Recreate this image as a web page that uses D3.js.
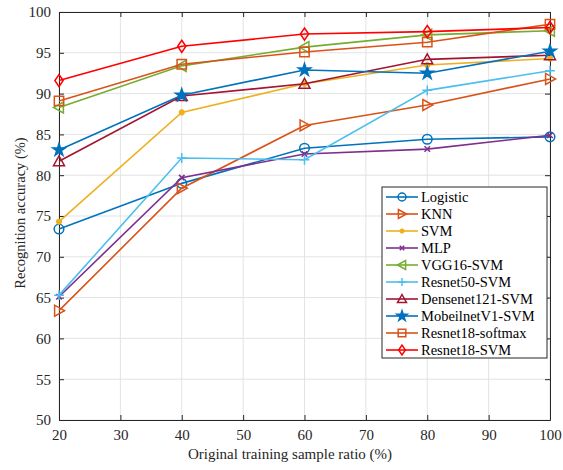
<!DOCTYPE html>
<html>
<head>
<meta charset="utf-8">
<script src="https://cdn.jsdelivr.net/npm/d3@7"></script>
<style>
  body { margin: 0; background: #fff; }
  text { font-family: "Liberation Serif", "Times New Roman", serif; }
</style>
</head>
<body>
<svg id="chart" width="563" height="470"></svg>
<script>
var ratios = [20, 40, 60, 80, 100];
var names = ["Logistic", "KNN", "SVM", "MLP", "VGG16-SVM", "Resnet50-SVM",
  "Densenet121-SVM", "MobeilnetV1-SVM", "Resnet18-softmax", "Resnet18-SVM"];
var logistic = [73.4, 79.0, 83.3, 84.4, 84.7];
var knn = [63.4, 78.4, 86.1, 88.6, 91.8];
var svm = [74.3, 87.7, 91.2, 93.5, 94.3];
var mlp = [65.1, 79.7, 82.6, 83.2, 84.9];
var vgg16 = [88.3, 93.4, 95.7, 97.2, 97.7];
var resnet50 = [65.3, 82.1, 81.9, 90.4, 92.8];
var densenet121 = [81.7, 89.7, 91.2, 94.2, 94.7];
var mobilenet = [83.1, 89.8, 92.9, 92.5, 95.2];
var resnet18Softmax = [89.1, 93.6, 95.1, 96.3, 98.5];
var resnet18Svm = [91.6, 95.8, 97.3, 97.6, 98.1];
var seriesValues = [logistic, knn, svm, mlp, vgg16, resnet50, densenet121, mobilenet, resnet18Softmax, resnet18Svm];
var colors = ["#0072BD", "#D95319", "#EDB120", "#7E2F8E", "#77AC30", "#4DBEEE", "#A2142F", "#0072BD", "#D95319", "#FF0000"];
var markers = ["circle", "triRight", "asterisk", "cross", "triLeft", "plus", "triUp", "star", "square", "diamond"];
var xTicks = [20, 30, 40, 50, 60, 70, 80, 90, 100];
var yTicks = [50, 55, 60, 65, 70, 75, 80, 85, 90, 95, 100];

var svg = d3.select("#chart");
var pl = 59, pr = 550, pt = 12, pb = 420;
var xScale = d3.scaleLinear().domain([20, 100]).range([pl, pr]);
var yScale = d3.scaleLinear().domain([50, 100]).range([pb, pt]);

// grid
var grid = svg.append("g").attr("stroke", "#e3e3e3").attr("stroke-width", 1);
xTicks.forEach(function(t){
  grid.append("line").attr("x1", xScale(t)).attr("x2", xScale(t)).attr("y1", pt).attr("y2", pb);
});
yTicks.forEach(function(t){
  grid.append("line").attr("x1", pl).attr("x2", pr).attr("y1", yScale(t)).attr("y2", yScale(t));
});

// axes, ticks inward like matlab
var axisColor = "#262626";
function styleAxis(g){
  g.select(".domain").attr("stroke", axisColor);
  g.selectAll(".tick line").attr("stroke", axisColor);
  g.selectAll(".tick text").attr("fill", "#262626").style("font-size", "15px")
    .style("font-family", "'Liberation Serif', serif");
}
svg.append("g").attr("transform", "translate(0," + pb + ")")
  .call(d3.axisBottom(xScale).tickValues(xTicks).tickSizeInner(-5).tickSizeOuter(0).tickPadding(9))
  .call(styleAxis);
svg.append("g").attr("transform", "translate(" + pl + ",0)")
  .call(d3.axisLeft(yScale).tickValues(yTicks).tickSizeInner(-5).tickSizeOuter(0).tickPadding(8))
  .call(styleAxis);
svg.append("g").attr("transform", "translate(0," + pt + ")")
  .call(d3.axisTop(xScale).tickValues(xTicks).tickSizeInner(-5).tickSizeOuter(0).tickFormat(""))
  .call(styleAxis);
svg.append("g").attr("transform", "translate(" + pr + ",0)")
  .call(d3.axisRight(yScale).tickValues(yTicks).tickSizeInner(-5).tickSizeOuter(0).tickFormat(""))
  .call(styleAxis);

svg.append("text").attr("x", 290).attr("y", 459).attr("text-anchor", "middle")
  .style("font-size", "15px").attr("fill", "#262626").text("Original training sample ratio (%)");
svg.append("text").attr("transform", "translate(25,213) rotate(-90)")
  .attr("text-anchor", "middle").style("font-size", "14.5px").attr("fill", "#262626")
  .text("Recognition accuracy (%)");

function markerPath(type, s){
  var h = s / 2;
  switch(type){
    case "circle": return d3.symbol(d3.symbolCircle, s * s * 0.6)();
    case "square": return "M" + (-h*0.85) + "," + (-h*0.85) + "h" + (s*0.85) + "v" + (s*0.85) + "h" + (-s*0.85) + "Z";
    case "diamond": return "M0," + (-h*1.1) + "L" + (h*0.75) + ",0L0," + (h*1.1) + "L" + (-h*0.75) + ",0Z";
    case "triUp": return "M0," + (-h) + "L" + h + "," + (h*0.8) + "L" + (-h) + "," + (h*0.8) + "Z";
    case "triRight": return "M" + h + ",0L" + (-h*0.8) + "," + (-h) + "L" + (-h*0.8) + "," + h + "Z";
    case "triLeft": return "M" + (-h) + ",0L" + (h*0.8) + "," + (-h) + "L" + (h*0.8) + "," + h + "Z";
    case "plus": return "M0," + (-h*0.9) + "V" + (h*0.9) + "M" + (-h*0.9) + ",0H" + (h*0.9);
    case "cross": var c = h * 0.5; return "M" + (-c) + "," + (-c) + "L" + c + "," + c + "M" + (-c) + "," + c + "L" + c + "," + (-c);
    case "asterisk": var a = h * 0.55; return "M0," + (-a) + "V" + a + "M" + (-a) + ",0H" + a +
      "M" + (-a*0.7) + "," + (-a*0.7) + "L" + (a*0.7) + "," + (a*0.7) + "M" + (-a*0.7) + "," + (a*0.7) + "L" + (a*0.7) + "," + (-a*0.7);
    case "star": return d3.symbol(d3.symbolStar, s * s * 0.4)();
  }
}
function drawMarker(g, type, color, x, y, s){
  var filled = (type === "star");
  g.append("path").attr("d", markerPath(type, s))
    .attr("transform", "translate(" + x + "," + y + ")")
    .attr("fill", filled ? color : "none")
    .attr("stroke", color)
    .attr("stroke-width", type === "asterisk" ? 2.2 : 1.5);
}

var line = d3.line()
  .x(function(d, i){ return xScale(ratios[i]); })
  .y(function(d){ return yScale(d); });

seriesValues.forEach(function(vals, k){
  var g = svg.append("g");
  g.append("path").datum(vals).attr("d", line).attr("fill", "none")
    .attr("stroke", colors[k]).attr("stroke-width", 1.6);
  vals.forEach(function(v, i){
    drawMarker(g, markers[k], colors[k], xScale(ratios[i]), yScale(v), 11);
  });
});

// legend
var lx = 382, ly = 187, lw = 165, lh = 171, step = 17;
var legend = svg.append("g");
legend.append("rect").attr("x", lx).attr("y", ly).attr("width", lw).attr("height", lh)
  .attr("fill", "#fff").attr("stroke", "#262626").attr("stroke-width", 1);
names.forEach(function(n, k){
  var yy = ly + 10 + k * step;
  legend.append("line").attr("x1", lx + 4).attr("x2", lx + 36).attr("y1", yy).attr("y2", yy)
    .attr("stroke", colors[k]).attr("stroke-width", 1.6);
  drawMarker(legend, markers[k], colors[k], lx + 20, yy, 9);
  legend.append("text").attr("x", lx + 39).attr("y", yy + 5).style("font-size", "14.5px")
    .attr("fill", "#000").text(n);
});
</script>
</body>
</html>
